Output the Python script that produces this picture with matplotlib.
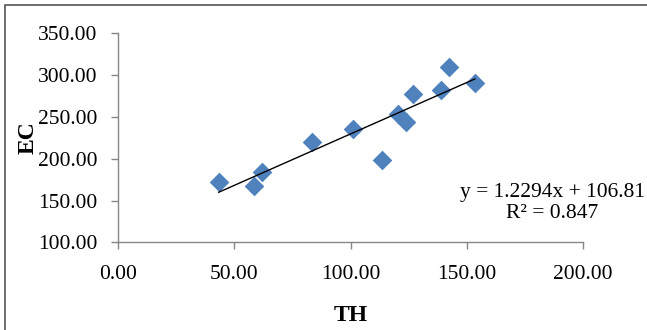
import numpy as np
import matplotlib
matplotlib.use('Agg')
import matplotlib.pyplot as plt
from matplotlib.patches import Rectangle

# Datos
th = [43.3, 58.4, 62.0, 83.6, 100.9, 113.5, 120.3, 123.9, 126.7, 139.0, 142.3, 153.4]
ec = [172.0, 168.0, 184.0, 220.0, 236.0, 198.0, 254.0, 244.0, 278.0, 282.0, 310.0, 290.0]
slope, intercept, r2 = 1.2294, 106.81, 0.847
xticks = [0, 50, 100, 150, 200]
yticks = [100, 150, 200, 250, 300, 350]

plt.rcParams['font.family'] = ['Liberation Serif', 'DejaVu Serif']
GREY = '#868686'

fig = plt.figure(figsize=(6.47, 3.30), dpi=100)
ax = fig.add_axes([0.1824, 0.2652, 0.719, 0.634])

ax.scatter(th, ec, marker='D', s=10**2, color='#4F81BD', linewidths=0, zorder=2)

# linea de tendencia
xl = np.array([min(th), max(th)])
ax.plot(xl, slope * xl + intercept, color='black', lw=1.0, zorder=3)

ax.set_xlim(0, 200)
ax.set_ylim(100, 350)
ax.set_xticks(xticks)
ax.set_yticks(yticks)
ax.set_xticklabels(['%.2f' % v for v in xticks])
ax.set_yticklabels(['%.2f' % v for v in yticks])

for s in ['top', 'right']:
    ax.spines[s].set_visible(False)
for s in ['left', 'bottom']:
    ax.spines[s].set_color(GREY)
    ax.spines[s].set_linewidth(1.0)
ax.tick_params(axis='both', colors=GREY, labelcolor='black', labelsize=15.5, length=5, width=1.0)
ax.tick_params(axis='x', pad=11)
ax.tick_params(axis='y', pad=10)

ax.set_xlabel('TH', fontsize=17, fontweight='bold', labelpad=15)
ax.set_ylabel('EC', fontsize=17, fontweight='bold', labelpad=-1)

fig.text(552 / 647, 1 - 203 / 330, 'y = 1.2294x + 106.81\nR² = %.3f' % r2,
         ha='center', va='center', fontsize=15.5, linespacing=1.15)

# borde de la figura
fig.patches.append(Rectangle((5 / 647, -0.2), 1.2, 1.2 - 5 / 330, transform=fig.transFigure,
                             fill=False, edgecolor='#555555', lw=1.2))

fig.savefig('out.png', dpi=100)
